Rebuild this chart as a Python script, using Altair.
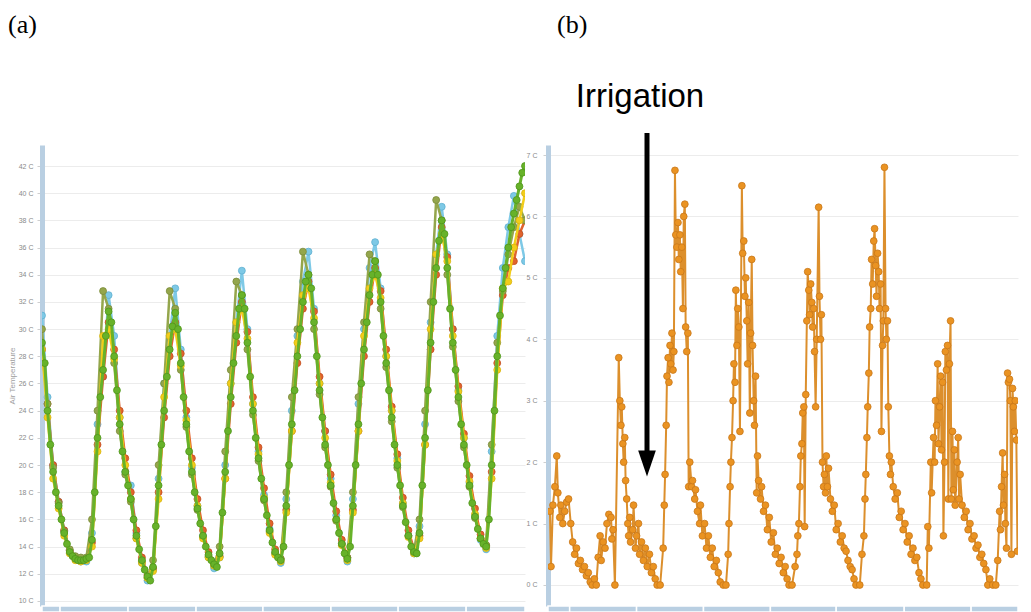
import altair as alt
import pandas as pd

# ---------------- Panel (a): air temperature, several sensors ----------------
green_hours = list(range(175))
green = [29, 27.5, 24, 21.5, 19.5, 18, 17, 16, 15, 14.2,
         13.6, 13.3, 13.1, 13.0, 13.0, 13.0, 13.1, 13.2, 14.5, 18,
         22, 25, 27, 29.5, 31.3, 30.5, 28, 25.5, 23, 21,
         19.5, 18.5, 17.5, 16, 14.8, 13.8, 13, 12.3, 11.8, 11.5,
         12.5, 15.5, 18.5, 21.5, 24, 26.5, 28.5, 30.2, 31.2, 30,
         27.5, 25, 23, 21, 19.5, 18, 16.8, 15.7, 14.8, 14,
         13.4, 13, 12.7, 12.5, 13.5, 16.5, 19.5, 22.5, 25, 27.5,
         29.5, 31.5, 32.5, 31.5, 29, 26.5, 24, 22, 20.5, 19,
         17.5, 16.3, 15.2, 14.3, 13.6, 13.2, 13, 14, 17, 20,
         23, 25.5, 28, 30, 32, 33.5, 34, 33, 30.5, 28,
         25.5, 23.5, 21.5, 20, 18.5, 17.2, 16, 15, 14.2, 13.5,
         13.1, 14, 17, 20, 23, 26, 28.5, 30.5, 32.5, 34,
         35, 34, 32, 29.5, 27.5, 25.5, 23.5, 21.5, 20, 18.5,
         17, 15.8, 14.8, 14, 13.6, 13.5, 15, 18.5, 22, 25.5,
         29, 32, 34.5, 36.5, 38, 37, 34.5, 31.5, 29, 27,
         25, 23, 21.5, 20, 18.5, 17.2, 16.2, 15.3, 14.6, 14.2,
         14, 16, 20, 24, 28, 31, 33, 34.5, 36, 37.5,
         38.5, 39.5, 40.5, 41.5, 42]

hours_2h = list(range(0, 175, 2))
blue = [31, 25, 20, 17.3, 15.2, 13.7, 13.2, 12.9, 12.9, 15,
        23, 26.5, 32.5, 29.5, 23.5, 19.5, 18.5, 15, 12.8, 11.5,
        12.3, 19, 26, 29.5, 33, 28.5, 23.5, 19.8, 17, 14.8,
        13.2, 12.4, 13.2, 20, 26, 30.5, 34.3, 30, 24.5, 21,
        17.8, 15.3, 13.5, 12.8, 17.5, 24, 29.5, 33.5, 35.7, 31.5,
        26, 22.5, 19, 16.3, 14.2, 12.9, 17.5, 24.5, 30, 34.5,
        36.4, 33, 28, 24, 20.5, 17.2, 14.8, 13.5, 15.5, 23,
        30.5, 35.5, 39, 35.5, 30, 25.5, 22, 18.7, 16.3, 14.5,
        13.8, 21, 29.5, 34.5, 37.5, 39.8, 37, 35]
olive = [30, 24.5, 19.8, 17.2, 15.1, 13.8, 13.3, 13.2, 13.2, 16,
         24, 32.8, 31.5, 27.5, 22.5, 19.3, 17.3, 14.6, 12.9, 11.7,
         13, 20, 26, 32.8, 31.5, 27, 22.8, 19.3, 16.7, 14.7,
         13.3, 12.6, 14, 21, 27, 33.5, 32.5, 28.5, 23.7, 20.3,
         17.4, 15.1, 13.5, 13.1, 18, 25, 30, 35.7, 34, 30,
         25.2, 21.3, 18.4, 15.9, 14.2, 13.2, 18, 25, 30.5, 35.5,
         35, 31.5, 27.2, 23.2, 19.8, 16.9, 14.8, 13.7, 16, 24,
         32, 39.5, 38, 34, 28.7, 24.7, 21.3, 18.4, 16.1, 14.6,
         14.1, 21.5, 29, 32.8, 35.5, 37.5, 39, 38]
yellow = [28.5, 23.5, 19, 16.8, 14.8, 13.5, 13, 12.9, 13, 14,
          21, 29.5, 30, 27.8, 23.5, 20, 17.5, 14.6, 12.8, 11.7,
          12.2, 17.5, 25, 29.5, 30, 27.3, 23.3, 20, 17, 14.6,
          13.2, 12.6, 13.2, 19, 26, 30.5, 31.5, 29.3, 24.5, 20.8,
          17.6, 15, 13.4, 12.9, 16.5, 22.5, 29, 32.5, 33, 30.8,
          26, 22, 18.7, 16, 14.1, 13, 16.5, 22.5, 29.5, 33,
          34, 32.3, 28, 24, 20.3, 17.2, 14.7, 13.5, 14.6, 21.5,
          30, 35.5, 37, 35, 29.5, 25.4, 22, 18.8, 16.4, 14.6,
          13.9, 19, 27, 33, 33.5, 36, 38, 40]
red = [28.5, 24.5, 20, 17.3, 15.2, 13.7, 13.2, 13.0, 13.1, 14.3,
       21.5, 26.5, 30.5, 28.5, 24, 20.5, 18, 15.2, 13.2, 11.9,
       12.4, 18, 23.5, 28, 30.5, 28.2, 24, 20.5, 17.5, 15.2,
       13.6, 12.8, 13.3, 19, 24.5, 29, 32, 29.8, 25, 21.3,
       18.3, 15.7, 13.8, 13.1, 16.7, 22.5, 27.5, 31.5, 33.5, 31.3,
       26.5, 22.5, 19.3, 16.6, 14.5, 13.2, 16.7, 22.5, 28, 32,
       34.5, 32.8, 28.5, 24.3, 20.8, 17.6, 15.2, 13.8, 14.8, 21.5,
       28.5, 34, 37.5, 35.3, 30, 25.8, 22.3, 19.2, 16.8, 14.9,
       14.1, 19.5, 27.5, 32.5, 34.5, 35, 37, 38]

a_day_edges = [0, 6.5, 31.0, 55.5, 79.6, 104.1, 128.3, 152.8, 174]
a_ticks = [10, 12, 14, 16, 18, 20, 22, 24, 26, 28, 30, 32, 34, 36, 38, 40, 42]

# ---------------- Panel (b): orange series ----------------
b_hours = [0.7, 1.1, 1.8, 2.5, 3.2, 3.6, 4.3, 4.7, 5.4, 6.1,
           6.8, 7.5, 8.3, 9.0, 9.7, 10.4, 11.1, 11.8, 12.6, 13.3,
           14.0, 14.7, 15.4, 16.1, 16.9, 17.6, 18.3, 19.0, 19.4, 20.1,
           20.8, 21.5, 22.2, 23.0, 23.3, 23.7, 24.4, 25.8, 26.2, 26.6,
           26.9, 27.3, 27.6, 28.0, 28.3, 28.7, 29.1, 29.4, 29.8, 30.1,
           30.9, 31.2, 31.9, 32.3, 33.0, 33.4, 34.1, 34.8, 35.5, 36.2,
           37.0, 37.7, 38.4, 39.1, 39.8, 40.9, 42.0, 42.4, 42.7, 43.1,
           43.4, 43.8, 44.1, 44.5, 44.8, 45.2, 45.6, 45.9, 46.3, 46.6,
           47.0, 47.4, 47.7, 48.1, 48.4, 48.8, 49.2, 49.5, 49.9, 50.2,
           50.6, 51.0, 51.3, 51.7, 52.4, 52.7, 53.5, 53.8, 54.5, 55.3,
           55.6, 56.3, 57.1, 57.8, 58.5, 59.2, 59.9, 60.6, 61.4, 62.1,
           62.8, 63.9, 64.9, 65.7, 66.0, 66.4, 66.7, 67.1, 67.5, 67.8,
           68.2, 68.5, 68.9, 69.2, 69.6, 70.0, 70.7, 71.0, 71.4, 71.8,
           72.1, 72.5, 72.8, 73.2, 73.6, 73.9, 74.3, 74.6, 75.0, 75.3,
           75.7, 76.1, 76.4, 76.8, 77.5, 77.9, 78.6, 79.3, 80.0, 80.7,
           81.4, 82.2, 82.9, 83.6, 84.3, 85.0, 85.8, 86.5, 87.2, 87.9,
           89.0, 90.1, 90.8, 91.1, 91.5, 91.9, 92.2, 92.6, 92.9, 93.3,
           93.6, 94.0, 94.4, 94.7, 95.1, 95.4, 95.8, 96.2, 96.5, 96.9,
           97.2, 97.6, 98.0, 98.7, 99.0, 99.4, 99.7, 100.1, 100.5, 100.8,
           101.2, 101.5, 101.9, 102.3, 103.0, 103.7, 104.4, 105.1, 105.8, 106.6,
           107.3, 108.0, 108.7, 109.4, 110.2, 110.9, 111.6, 112.3, 113.7, 114.5,
           115.2, 115.6, 115.9, 116.3, 116.6, 117.0, 117.3, 117.7, 118.0, 118.4,
           118.8, 119.1, 119.5, 119.8, 120.2, 120.6, 120.9, 121.3, 121.6, 122.0,
           122.3, 122.7, 123.1, 123.4, 123.8, 124.1, 124.5, 124.9, 125.2, 125.9,
           126.6, 127.4, 128.1, 128.8, 129.5, 130.2, 131.0, 131.7, 132.4, 133.1,
           133.8, 134.5, 135.3, 136.0, 136.7, 138.1, 138.5, 138.9, 139.6, 139.9,
           140.6, 141.0, 141.3, 141.7, 142.1, 142.4, 142.8, 143.2, 143.5, 143.9,
           144.2, 144.6, 144.9, 145.3, 145.7, 146.0, 146.4, 146.8, 147.1, 147.5,
           147.8, 148.2, 148.5, 149.2, 149.6, 149.9, 150.3, 151.0, 151.8, 152.5,
           153.2, 153.9, 154.6, 155.4, 156.1, 156.8, 157.5, 158.2, 158.9, 159.7,
           160.4, 161.1, 162.2, 163.3, 164.0, 164.7, 165.0, 165.4, 165.8, 166.1,
           166.5, 166.8, 167.2, 167.6, 167.9, 168.3, 168.6, 169.0, 169.4, 169.7,
           170.1, 170.4, 170.8, 171.2]
b_vals = [1.2, 0.3, 1.3, 1.6, 2.1, 1.5, 1.1, 1.3, 1.0, 1.2,
          1.35, 1.4, 1.0, 0.7, 0.5, 0.6, 0.35, 0.4, 0.25, 0.3,
          0.15, 0.2, 0.05, 0.0, 0.1, 0.0, 0.45, 0.8, 0.4, 0.7,
          0.6, 1.0, 1.15, 1.1, 0.75, 0.9, 0.0, 3.7, 3.0, 2.6,
          2.9, 2.3, 2.0, 2.4, 1.7, 1.4, 1.0, 0.8, 1.1, 0.7,
          0.9, 1.3, 0.6, 0.8, 1.0, 0.5, 0.7, 0.4, 0.6, 0.3,
          0.5, 0.2, 0.3, 0.1, 0.0, 0.0, 0.6, 1.3, 1.8, 2.6,
          3.4, 3.7, 3.3, 3.9, 3.6, 4.1, 3.5, 3.8, 6.75, 5.7,
          5.5, 5.9, 5.3, 5.7, 5.1, 5.5, 4.5, 6.0, 6.2, 4.2,
          3.8, 4.1, 1.6, 2.0, 1.6, 1.7, 1.4, 1.55, 1.2, 1.0,
          1.3, 0.8, 1.0, 0.6, 0.8, 0.45, 0.6, 0.3, 0.4, 0.2,
          0.05, 0.0, 0.0, 0.5, 1.0, 1.6, 2.0, 2.4, 3.0, 3.6,
          3.3, 4.8, 3.9, 4.5, 4.2, 2.5, 6.5, 5.4, 5.6, 4.7,
          5.0, 4.3, 3.6, 4.6, 2.8, 4.1, 5.3, 3.9, 3.0, 2.6,
          3.4, 1.5, 2.1, 1.7, 1.4, 1.6, 1.2, 1.3, 0.9, 1.1,
          0.7, 0.85, 0.5, 0.6, 0.35, 0.45, 0.2, 0.3, 0.1, 0.0,
          0.0, 0.3, 0.5, 0.8, 1.0, 1.6, 2.1, 2.3, 2.8, 2.9,
          0.95, 3.1, 4.3, 5.1, 4.8, 4.4, 4.9, 4.6, 4.2, 4.5,
          3.8, 2.9, 4.0, 6.15, 4.7, 4.0, 4.4, 2.0, 1.6, 1.8,
          1.5, 2.1, 1.6, 1.9, 1.4, 1.2, 1.3, 0.9, 1.0, 0.7,
          0.8, 0.6, 0.55, 0.4, 0.3, 0.25, 0.1, 0.0, 0.0, 0.5,
          0.8, 1.4, 1.8, 2.4, 2.9, 3.45, 4.2, 4.5, 5.3, 4.9,
          5.6, 5.8, 5.2, 4.7, 5.4, 5.1, 4.5, 4.9, 2.5, 3.9,
          4.3, 6.8, 4.5, 4.0, 4.3, 2.9, 2.1, 1.8, 2.0, 1.6,
          1.4, 1.5, 1.1, 1.2, 0.9, 1.0, 0.7, 0.8, 0.5, 0.6,
          0.4, 0.45, 0.2, 0.1, 0.0, 0.0, 0.95, 0.6, 2.0, 1.5,
          2.4, 2.0, 3.0, 2.6, 3.6, 2.3, 2.9, 3.4, 2.2, 3.3,
          0.8, 2.0, 3.8, 3.5, 3.9, 1.4, 3.6, 4.3, 1.4, 2.5,
          1.55, 2.2, 1.3, 2.0, 2.4, 1.4, 1.8, 1.3, 1.1, 1.2,
          0.9, 1.0, 0.75, 0.8, 0.6, 0.65, 0.45, 0.5, 0.35, 0.25,
          0.0, 0.1, 0.0, 0.0, 0.4, 1.2, 0.9, 1.6, 2.15, 1.3,
          1.8, 1.0, 0.6, 3.45, 3.3, 3.35, 3.0, 0.5, 3.2, 2.9,
          2.5, 3.0, 2.36, 0.55]

b_day_edges = [0, 7.9, 32.3, 56.7, 81.1, 105.1, 129.9, 154.3, 171.4]
b_ticks = [0, 1, 2, 3, 4, 5, 6, 7]

# ---------------- styling ----------------
BAR = "#b9cfe2"
GRID = "#ececec"
LABEL = "#8a8a8a"
A_W, B_W, H = 483, 470, 461

xa = alt.Scale(domain=[0, 174], nice=False, zero=False)
ya = alt.Scale(domain=[9.632, 43.545], nice=False, zero=False)
xb = alt.Scale(domain=[0, 171.4], nice=False, zero=False)
yb = alt.Scale(domain=[-0.342, 7.163], nice=False, zero=False)


def yaxis(values, title, lpad):
    kw = dict(values=values, labelExpr="datum.value + ' C'", labelFontSize=7,
              labelColor=LABEL, labelFont="Liberation Sans", tickSize=5,
              tickColor="#cfcfcf", labelPadding=lpad, domainColor=BAR,
              domainWidth=5, grid=True, gridColor=GRID, gridWidth=1,
              title=title)
    if title:
        kw.update(titleFontSize=8, titleColor="#a0a0a0",
                  titleFontWeight="normal", titleFont="Liberation Sans",
                  titlePadding=2)
    return alt.Axis(**kw)


axis_a = yaxis(a_ticks, "Air Temperature", 4)
axis_b = yaxis(b_ticks, "", 6)


def series_layers(hours, vals, fill, stroke, lw=2.5):
    df = pd.DataFrame({"h": hours, "t": vals})
    base = alt.Chart(df)
    enc = dict(x=alt.X("h:Q", scale=xa, axis=None),
               y=alt.Y("t:Q", scale=ya, axis=axis_a, title="Air Temperature"))
    line = base.mark_line(color=fill, strokeWidth=lw, clip=True).encode(**enc)
    pts = base.mark_circle(size=48, color=fill, stroke=stroke, strokeWidth=0.8,
                           opacity=1, clip=True).encode(**enc)
    return [line, pts]


layers_a = []
layers_a += series_layers(hours_2h, blue, "#7ec9e6", "#5eb0d0")
layers_a += series_layers(hours_2h, red, "#e0632d", "#c44e1e")
layers_a += series_layers(hours_2h, olive, "#94a64c", "#7b8c3a")
layers_a += series_layers(hours_2h, yellow, "#f2cd1a", "#d9b410")
layers_a += series_layers(green_hours, green, "#67b22a", "#4f961a", 3)

bar_a = alt.Chart(pd.DataFrame({"s": a_day_edges[:-1], "e": a_day_edges[1:]})).mark_rect(
    color=BAR, stroke="white", strokeWidth=1.5).encode(
    x=alt.X("s:Q", scale=xa, axis=None), x2="e:Q",
    y=alt.value(H), y2=alt.value(H + 6))

lab_a = alt.Chart(pd.DataFrame({"t": ["(a)"]})).mark_text(
    font="Liberation Serif", fontSize=26, align="left", baseline="top",
    color="black").encode(text="t:N", x=alt.value(-34), y=alt.value(-133))

panel_a = alt.layer(*layers_a, bar_a, lab_a).properties(width=A_W, height=H)

# panel b
dfb = pd.DataFrame({"h": b_hours, "v": b_vals})
enc_b = dict(x=alt.X("h:Q", scale=xb, axis=None),
             y=alt.Y("v:Q", scale=yb, axis=axis_b, title=""))
line_b = alt.Chart(dfb).mark_line(color="#dc8f2c", strokeWidth=2, clip=True).encode(**enc_b)
pts_b = alt.Chart(dfb).mark_circle(size=46, color="#ea9322", stroke="#c8771a",
                                   strokeWidth=0.8, opacity=1, clip=True).encode(**enc_b)
bar_b = alt.Chart(pd.DataFrame({"s": b_day_edges[:-1], "e": b_day_edges[1:]})).mark_rect(
    color=BAR, stroke="white", strokeWidth=1.5).encode(
    x=alt.X("s:Q", scale=xb, axis=None), x2="e:Q",
    y=alt.value(H), y2=alt.value(H + 6))
lab_b = alt.Chart(pd.DataFrame({"t": ["(b)"]})).mark_text(
    font="Liberation Serif", fontSize=26, align="left", baseline="top",
    color="black").encode(text="t:N", x=alt.value(9), y=alt.value(-133))
irr = alt.Chart(pd.DataFrame({"t": ["Irrigation"]})).mark_text(
    font="Liberation Sans", fontSize=33, align="center", baseline="alphabetic",
    color="black").encode(text="t:N", x=alt.value(92), y=alt.value(-38))
arrow_line = alt.Chart(pd.DataFrame({"t": [0]})).mark_rule(
    color="black", strokeWidth=5).encode(
    x=alt.value(99), y=alt.value(-12), y2=alt.value(308))
arrow_head = alt.Chart(pd.DataFrame({"t": [0]})).mark_point(
    shape="M-0.68,-1L0.68,-1L0,1Z", filled=True, color="black", size=676,
    opacity=1).encode(x=alt.value(99), y=alt.value(318.5))

panel_b = alt.layer(line_b, pts_b, bar_b, lab_b, irr, arrow_line, arrow_head).properties(
    width=B_W, height=H)

chart = alt.hconcat(panel_a, panel_b, spacing=0).properties(
    padding={"left": 0, "top": 4, "right": 0, "bottom": 0},
    background="white"
).configure_view(stroke=None)

chart.save("out.html", embed_options={"renderer": "svg", "actions": False})
